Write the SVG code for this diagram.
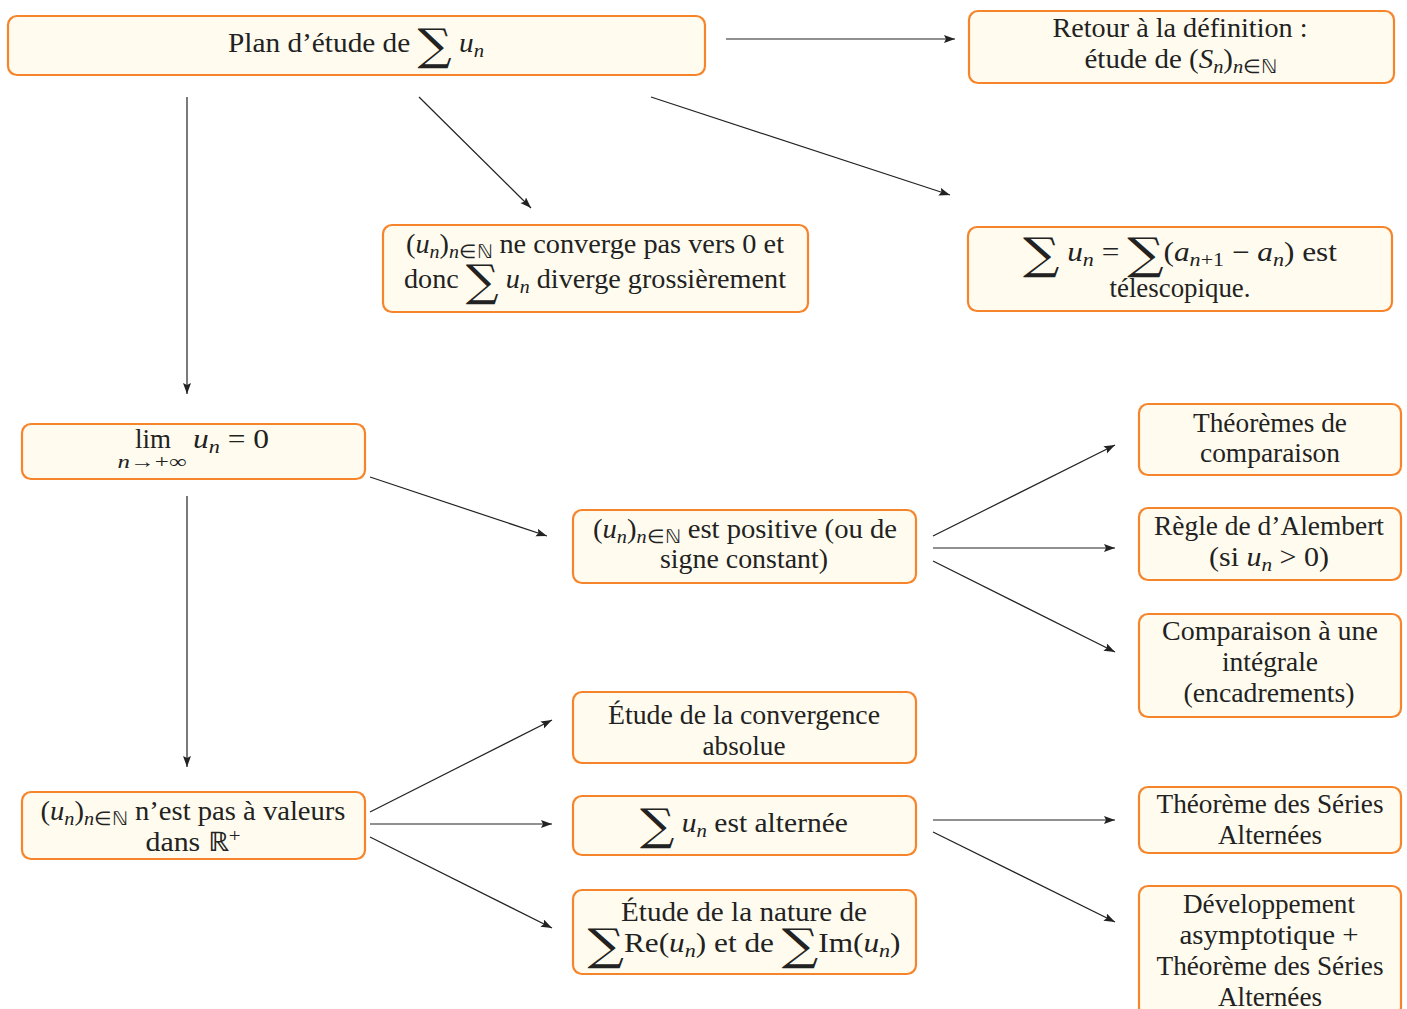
<svg xmlns="http://www.w3.org/2000/svg" width="1407" height="1009" viewBox="0 0 1407 1009">
<style>
.box{fill:#FFFCEF;stroke:#F5842A;stroke-width:2.2}
.t text{font-family:'Liberation Serif',serif;font-size:27px;fill:#222;text-anchor:middle}
.i{font-style:italic}
.s{font-size:19px}
.sg{font-family:'DejaVu Serif',serif;font-size:44px}
.c line{stroke:#222;stroke-width:1.2;fill:none}
</style>
<defs>
<marker id="a" markerUnits="userSpaceOnUse" markerWidth="12" markerHeight="10" refX="11" refY="4" orient="auto">
<path d="M0,0 L11,4 L0,8 L2,4 z" fill="#222"/>
</marker>
</defs>
<g class="c">
<line x1="726" y1="39" x2="955" y2="39" marker-end="url(#a)"/>
<line x1="187" y1="97" x2="187" y2="394" marker-end="url(#a)"/>
<line x1="419" y1="97" x2="531" y2="208" marker-end="url(#a)"/>
<line x1="651" y1="97" x2="950" y2="195" marker-end="url(#a)"/>
<line x1="370" y1="477" x2="547" y2="536" marker-end="url(#a)"/>
<line x1="187" y1="496" x2="187" y2="767" marker-end="url(#a)"/>
<line x1="933" y1="536" x2="1115" y2="445" marker-end="url(#a)"/>
<line x1="933" y1="548" x2="1115" y2="548" marker-end="url(#a)"/>
<line x1="933" y1="561" x2="1115" y2="652" marker-end="url(#a)"/>
<line x1="370" y1="812" x2="552" y2="720" marker-end="url(#a)"/>
<line x1="370" y1="824" x2="552" y2="824" marker-end="url(#a)"/>
<line x1="370" y1="837" x2="552" y2="928" marker-end="url(#a)"/>
<line x1="933" y1="820" x2="1115" y2="820" marker-end="url(#a)"/>
<line x1="933" y1="832" x2="1115" y2="922" marker-end="url(#a)"/>
</g>
<g class="t" font-family="Liberation Serif">
<g id="plan">
<rect class="box" x="8" y="16" width="697" height="59" rx="9"/>
<text x="356" y="52" textLength="256" lengthAdjust="spacingAndGlyphs">Plan d’étude de <tspan class="sg" baseline-shift="-8">∑</tspan> <tspan class="i">u</tspan><tspan class="i s" baseline-shift="-5">n</tspan></text>
</g>
<g id="retour">
<rect class="box" x="969" y="11" width="425" height="72" rx="9"/>
<text x="1180" y="37" textLength="255" lengthAdjust="spacingAndGlyphs">Retour à la définition :</text>
<text x="1181" y="68" textLength="193" lengthAdjust="spacingAndGlyphs">étude de (<tspan class="i">S</tspan><tspan class="i s" baseline-shift="-5">n</tspan>)<tspan class="s" baseline-shift="-5"><tspan class="i">n</tspan>∈ℕ</tspan></text>
</g>
<g id="diverge">
<rect class="box" x="383" y="225" width="425" height="87" rx="9"/>
<text x="595" y="253" textLength="378" lengthAdjust="spacingAndGlyphs">(<tspan class="i">u</tspan><tspan class="i s" baseline-shift="-5">n</tspan>)<tspan class="s" baseline-shift="-5"><tspan class="i">n</tspan>∈ℕ</tspan> ne converge pas vers 0 et</text>
<text x="595" y="288" textLength="382" lengthAdjust="spacingAndGlyphs">donc <tspan class="sg" baseline-shift="-8">∑</tspan> <tspan class="i">u</tspan><tspan class="i s" baseline-shift="-5">n</tspan> diverge grossièrement</text>
</g>
<g id="telescopique">
<rect class="box" x="968" y="227" width="424" height="84" rx="9"/>
<text x="1180" y="261" textLength="314" lengthAdjust="spacingAndGlyphs"><tspan class="sg" baseline-shift="-8">∑</tspan> <tspan class="i">u</tspan><tspan class="i s" baseline-shift="-5">n</tspan> = <tspan class="sg" baseline-shift="-8">∑</tspan>(<tspan class="i">a</tspan><tspan class="s" baseline-shift="-5"><tspan class="i">n</tspan>+1</tspan> − <tspan class="i">a</tspan><tspan class="i s" baseline-shift="-5">n</tspan>) est</text>
<text x="1180" y="297" textLength="141" lengthAdjust="spacingAndGlyphs">télescopique.</text>
</g>
<g id="limite">
<rect class="box" x="22" y="424" width="343" height="55" rx="9"/>
<text x="153" y="448" textLength="36" lengthAdjust="spacingAndGlyphs">lim</text>
<text x="152" y="468" class="s" style="font-size:19px" textLength="69" lengthAdjust="spacingAndGlyphs"><tspan class="i">n</tspan>→+∞</text>
<text x="193" y="448" style="text-anchor:start" textLength="76" lengthAdjust="spacingAndGlyphs"><tspan class="i">u</tspan><tspan class="i s" baseline-shift="-5">n</tspan> = 0</text>
</g>
<g id="positive">
<rect class="box" x="573" y="510" width="343" height="73" rx="9"/>
<text x="745" y="538" textLength="304" lengthAdjust="spacingAndGlyphs">(<tspan class="i">u</tspan><tspan class="i s" baseline-shift="-5">n</tspan>)<tspan class="s" baseline-shift="-5"><tspan class="i">n</tspan>∈ℕ</tspan> est positive (ou de</text>
<text x="744" y="568" textLength="168" lengthAdjust="spacingAndGlyphs">signe constant)</text>
</g>
<g id="comparaison">
<rect class="box" x="1139" y="404" width="262" height="71" rx="9"/>
<text x="1270" y="432" textLength="154" lengthAdjust="spacingAndGlyphs">Théorèmes de</text>
<text x="1270" y="462" textLength="140" lengthAdjust="spacingAndGlyphs">comparaison</text>
</g>
<g id="alembert">
<rect class="box" x="1139" y="508" width="262" height="72" rx="9"/>
<text x="1269" y="535" textLength="230" lengthAdjust="spacingAndGlyphs">Règle de d’Alembert</text>
<text x="1269" y="566" textLength="120" lengthAdjust="spacingAndGlyphs">(si <tspan class="i">u</tspan><tspan class="i s" baseline-shift="-5">n</tspan> &gt; 0)</text>
</g>
<g id="integrale">
<rect class="box" x="1139" y="614" width="262" height="103" rx="9"/>
<text x="1270" y="640" textLength="216" lengthAdjust="spacingAndGlyphs">Comparaison à une</text>
<text x="1270" y="671" textLength="96" lengthAdjust="spacingAndGlyphs">intégrale</text>
<text x="1269" y="702" textLength="171" lengthAdjust="spacingAndGlyphs">(encadrements)</text>
</g>
<g id="nonpositive">
<rect class="box" x="22" y="792" width="343" height="67" rx="9"/>
<text x="193" y="820" textLength="305" lengthAdjust="spacingAndGlyphs">(<tspan class="i">u</tspan><tspan class="i s" baseline-shift="-5">n</tspan>)<tspan class="s" baseline-shift="-5"><tspan class="i">n</tspan>∈ℕ</tspan> n’est pas à valeurs</text>
<text x="193" y="851" textLength="95" lengthAdjust="spacingAndGlyphs">dans ℝ<tspan class="s" baseline-shift="9">+</tspan></text>
</g>
<g id="absolue">
<rect class="box" x="573" y="692" width="343" height="71" rx="9"/>
<text x="744" y="724" textLength="272" lengthAdjust="spacingAndGlyphs">Étude de la convergence</text>
<text x="744" y="755" textLength="83" lengthAdjust="spacingAndGlyphs">absolue</text>
</g>
<g id="alternee">
<rect class="box" x="573" y="796" width="343" height="59" rx="9"/>
<text x="744" y="832" textLength="208" lengthAdjust="spacingAndGlyphs"><tspan class="sg" baseline-shift="-8">∑</tspan> <tspan class="i">u</tspan><tspan class="i s" baseline-shift="-5">n</tspan> est alternée</text>
</g>
<g id="nature">
<rect class="box" x="573" y="890" width="343" height="84" rx="9"/>
<text x="744" y="921" textLength="246" lengthAdjust="spacingAndGlyphs">Étude de la nature de</text>
<text x="744" y="952" textLength="313" lengthAdjust="spacingAndGlyphs"><tspan class="sg" baseline-shift="-8">∑</tspan>Re(<tspan class="i">u</tspan><tspan class="i s" baseline-shift="-5">n</tspan>) et de <tspan class="sg" baseline-shift="-8">∑</tspan>Im(<tspan class="i">u</tspan><tspan class="i s" baseline-shift="-5">n</tspan>)</text>
</g>
<g id="tsa">
<rect class="box" x="1139" y="787" width="262" height="66" rx="9"/>
<text x="1270" y="813" textLength="227" lengthAdjust="spacingAndGlyphs">Théorème des Séries</text>
<text x="1270" y="844" textLength="104" lengthAdjust="spacingAndGlyphs">Alternées</text>
</g>
<g id="developpement">
<rect class="box" x="1139" y="886" width="262" height="130" rx="9"/>
<text x="1269" y="913" textLength="172" lengthAdjust="spacingAndGlyphs">Développement</text>
<text x="1269" y="944" textLength="179" lengthAdjust="spacingAndGlyphs">asymptotique +</text>
<text x="1270" y="975" textLength="227" lengthAdjust="spacingAndGlyphs">Théorème des Séries</text>
<text x="1270" y="1006" textLength="104" lengthAdjust="spacingAndGlyphs">Alternées</text>
</g>
</g>
</svg>
